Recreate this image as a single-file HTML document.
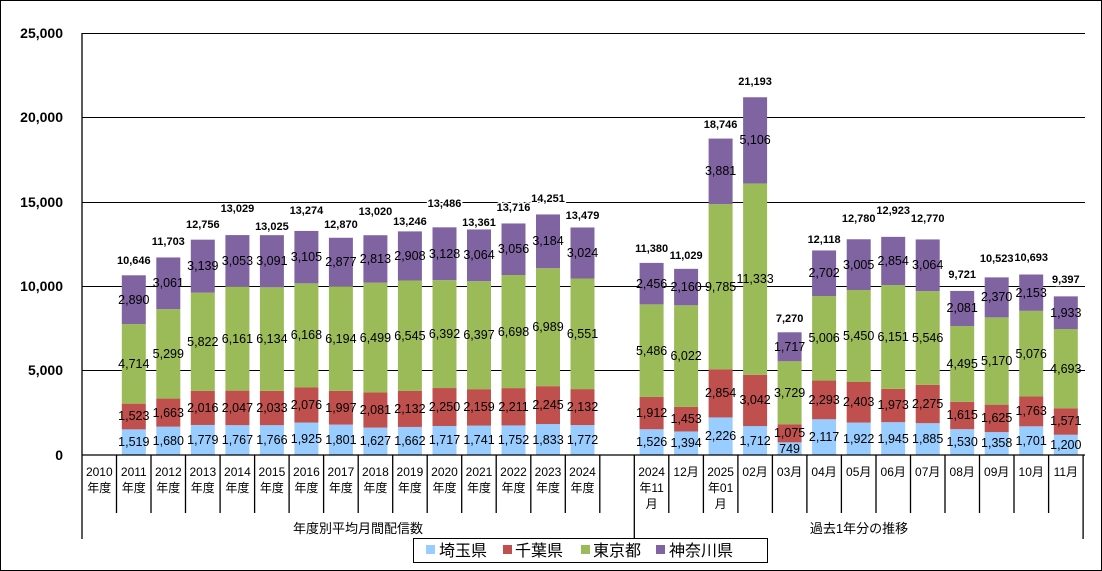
<!DOCTYPE html>
<html><head><meta charset="utf-8">
<style>
html,body{margin:0;padding:0;background:#fff;}
svg{display:block;}
text{font-family:"Liberation Sans","Noto Sans CJK JP",sans-serif;fill:#000;}
.v{font-size:12.5px;text-anchor:middle;dominant-baseline:central;}
.t{font-size:11px;font-weight:bold;text-anchor:middle;dominant-baseline:central;stroke:#fff;stroke-width:3px;paint-order:stroke;}
.ya{font-size:14px;font-weight:bold;text-anchor:end;dominant-baseline:central;}
.c{font-size:12px;text-anchor:middle;}
.g{font-size:13px;text-anchor:middle;}
.lg{font-size:16px;}
</style></head><body>
<svg width="1102" height="571" viewBox="0 0 1102 571" xmlns="http://www.w3.org/2000/svg">
<rect x="0.5" y="0.5" width="1101" height="570" fill="#fff" stroke="#000"/>
<!-- gridlines -->
<g stroke="#000" stroke-width="1">
<line x1="82" y1="33.5" x2="1085" y2="33.5"/>
<line x1="82" y1="117.5" x2="1085" y2="117.5"/>
<line x1="82" y1="202.5" x2="1085" y2="202.5"/>
<line x1="82" y1="286.5" x2="1085" y2="286.5"/>
<line x1="82" y1="370.5" x2="1085" y2="370.5"/>
</g>
<text class="ya" x="63" y="33">25,000</text>
<text class="ya" x="63" y="117">20,000</text>
<text class="ya" x="63" y="202">15,000</text>
<text class="ya" x="63" y="286">10,000</text>
<text class="ya" x="63" y="370">5,000</text>
<text class="ya" x="63" y="455">0</text>
<!-- bars -->
<g transform="translate(0,455) scale(1,-0.01688)">
<g fill="#99CCFF">
<rect x="121.8" y="0" width="24" height="1519"/><rect x="156.3" y="0" width="24" height="1680"/><rect x="190.8" y="0" width="24" height="1779"/><rect x="225.4" y="0" width="24" height="1767"/><rect x="259.9" y="0" width="24" height="1766"/><rect x="294.4" y="0" width="24" height="1925"/><rect x="328.9" y="0" width="24" height="1801"/><rect x="363.4" y="0" width="24" height="1627"/><rect x="397.9" y="0" width="24" height="1662"/><rect x="432.5" y="0" width="24" height="1717"/><rect x="467" y="0" width="24" height="1741"/><rect x="501.5" y="0" width="24" height="1752"/><rect x="536" y="0" width="24" height="1833"/><rect x="570.5" y="0" width="24" height="1772"/>
<rect x="639.6" y="0" width="24" height="1526"/><rect x="674.1" y="0" width="24" height="1394"/><rect x="708.6" y="0" width="24" height="2226"/><rect x="743.1" y="0" width="24" height="1712"/><rect x="777.6" y="0" width="24" height="749"/><rect x="812.1" y="0" width="24" height="2117"/><rect x="846.7" y="0" width="24" height="1922"/><rect x="881.2" y="0" width="24" height="1945"/><rect x="915.7" y="0" width="24" height="1885"/><rect x="950.2" y="0" width="24" height="1530"/><rect x="984.7" y="0" width="24" height="1358"/><rect x="1019.2" y="0" width="24" height="1701"/><rect x="1053.8" y="0" width="24" height="1200"/>
</g>
<g fill="#C0504D">
<rect x="121.8" y="1519" width="24" height="1523"/><rect x="156.3" y="1680" width="24" height="1663"/><rect x="190.8" y="1779" width="24" height="2016"/><rect x="225.4" y="1767" width="24" height="2047"/><rect x="259.9" y="1766" width="24" height="2033"/><rect x="294.4" y="1925" width="24" height="2076"/><rect x="328.9" y="1801" width="24" height="1997"/><rect x="363.4" y="1627" width="24" height="2081"/><rect x="397.9" y="1662" width="24" height="2132"/><rect x="432.5" y="1717" width="24" height="2250"/><rect x="467" y="1741" width="24" height="2159"/><rect x="501.5" y="1752" width="24" height="2211"/><rect x="536" y="1833" width="24" height="2245"/><rect x="570.5" y="1772" width="24" height="2132"/>
<rect x="639.6" y="1526" width="24" height="1912"/><rect x="674.1" y="1394" width="24" height="1453"/><rect x="708.6" y="2226" width="24" height="2854"/><rect x="743.1" y="1712" width="24" height="3042"/><rect x="777.6" y="749" width="24" height="1075"/><rect x="812.1" y="2117" width="24" height="2293"/><rect x="846.7" y="1922" width="24" height="2403"/><rect x="881.2" y="1945" width="24" height="1973"/><rect x="915.7" y="1885" width="24" height="2275"/><rect x="950.2" y="1530" width="24" height="1615"/><rect x="984.7" y="1358" width="24" height="1625"/><rect x="1019.2" y="1701" width="24" height="1763"/><rect x="1053.8" y="1200" width="24" height="1571"/>
</g>
<g fill="#9BBB59">
<rect x="121.8" y="3042" width="24" height="4714"/><rect x="156.3" y="3343" width="24" height="5299"/><rect x="190.8" y="3795" width="24" height="5822"/><rect x="225.4" y="3814" width="24" height="6161"/><rect x="259.9" y="3799" width="24" height="6134"/><rect x="294.4" y="4001" width="24" height="6168"/><rect x="328.9" y="3798" width="24" height="6194"/><rect x="363.4" y="3708" width="24" height="6499"/><rect x="397.9" y="3794" width="24" height="6545"/><rect x="432.5" y="3967" width="24" height="6392"/><rect x="467" y="3900" width="24" height="6397"/><rect x="501.5" y="3963" width="24" height="6698"/><rect x="536" y="4078" width="24" height="6989"/><rect x="570.5" y="3904" width="24" height="6551"/>
<rect x="639.6" y="3438" width="24" height="5486"/><rect x="674.1" y="2847" width="24" height="6022"/><rect x="708.6" y="5080" width="24" height="9785"/><rect x="743.1" y="4754" width="24" height="11333"/><rect x="777.6" y="1824" width="24" height="3729"/><rect x="812.1" y="4410" width="24" height="5006"/><rect x="846.7" y="4325" width="24" height="5450"/><rect x="881.2" y="3918" width="24" height="6151"/><rect x="915.7" y="4160" width="24" height="5546"/><rect x="950.2" y="3145" width="24" height="4495"/><rect x="984.7" y="2983" width="24" height="5170"/><rect x="1019.2" y="3464" width="24" height="5076"/><rect x="1053.8" y="2771" width="24" height="4693"/>
</g>
<g fill="#8064A2">
<rect x="121.8" y="7756" width="24" height="2890"/><rect x="156.3" y="8642" width="24" height="3061"/><rect x="190.8" y="9617" width="24" height="3139"/><rect x="225.4" y="9975" width="24" height="3053"/><rect x="259.9" y="9933" width="24" height="3091"/><rect x="294.4" y="10169" width="24" height="3105"/><rect x="328.9" y="9992" width="24" height="2877"/><rect x="363.4" y="10207" width="24" height="2813"/><rect x="397.9" y="10339" width="24" height="2908"/><rect x="432.5" y="10359" width="24" height="3128"/><rect x="467" y="10297" width="24" height="3064"/><rect x="501.5" y="10661" width="24" height="3056"/><rect x="536" y="11067" width="24" height="3184"/><rect x="570.5" y="10455" width="24" height="3024"/>
<rect x="639.6" y="8924" width="24" height="2456"/><rect x="674.1" y="8869" width="24" height="2160"/><rect x="708.6" y="14865" width="24" height="3881"/><rect x="743.1" y="16087" width="24" height="5106"/><rect x="777.6" y="5553" width="24" height="1717"/><rect x="812.1" y="9416" width="24" height="2702"/><rect x="846.7" y="9775" width="24" height="3005"/><rect x="881.2" y="10069" width="24" height="2854"/><rect x="915.7" y="9706" width="24" height="3064"/><rect x="950.2" y="7640" width="24" height="2081"/><rect x="984.7" y="8153" width="24" height="2370"/><rect x="1019.2" y="8540" width="24" height="2153"/><rect x="1053.8" y="7464" width="24" height="1933"/>
</g>
</g>
<!-- segment labels -->
<g>
<text class="v" x="133.8" y="442">1,519</text><text class="v" x="133.8" y="416">1,523</text><text class="v" x="133.8" y="364">4,714</text><text class="v" x="133.8" y="300">2,890</text>
<text class="v" x="168.3" y="441">1,680</text><text class="v" x="168.3" y="413">1,663</text><text class="v" x="168.3" y="354">5,299</text><text class="v" x="168.3" y="283">3,061</text>
<text class="v" x="202.8" y="440">1,779</text><text class="v" x="202.8" y="408">2,016</text><text class="v" x="202.8" y="342">5,822</text><text class="v" x="202.8" y="266">3,139</text>
<text class="v" x="237.4" y="440">1,767</text><text class="v" x="237.4" y="408">2,047</text><text class="v" x="237.4" y="339">6,161</text><text class="v" x="237.4" y="261">3,053</text>
<text class="v" x="271.9" y="440">1,766</text><text class="v" x="271.9" y="408">2,033</text><text class="v" x="271.9" y="339">6,134</text><text class="v" x="271.9" y="261">3,091</text>
<text class="v" x="306.4" y="439">1,925</text><text class="v" x="306.4" y="405">2,076</text><text class="v" x="306.4" y="335">6,168</text><text class="v" x="306.4" y="257">3,105</text>
<text class="v" x="340.9" y="440">1,801</text><text class="v" x="340.9" y="408">1,997</text><text class="v" x="340.9" y="339">6,194</text><text class="v" x="340.9" y="262">2,877</text>
<text class="v" x="375.4" y="441">1,627</text><text class="v" x="375.4" y="410">2,081</text><text class="v" x="375.4" y="338">6,499</text><text class="v" x="375.4" y="259">2,813</text>
<text class="v" x="409.9" y="441">1,662</text><text class="v" x="409.9" y="409">2,132</text><text class="v" x="409.9" y="336">6,545</text><text class="v" x="409.9" y="256">2,908</text>
<text class="v" x="444.5" y="440">1,717</text><text class="v" x="444.5" y="407">2,250</text><text class="v" x="444.5" y="334">6,392</text><text class="v" x="444.5" y="254">3,128</text>
<text class="v" x="479" y="440">1,741</text><text class="v" x="479" y="407">2,159</text><text class="v" x="479" y="335">6,397</text><text class="v" x="479" y="255">3,064</text>
<text class="v" x="513.5" y="440">1,752</text><text class="v" x="513.5" y="407">2,211</text><text class="v" x="513.5" y="332">6,698</text><text class="v" x="513.5" y="249">3,056</text>
<text class="v" x="548" y="440">1,833</text><text class="v" x="548" y="405">2,245</text><text class="v" x="548" y="327">6,989</text><text class="v" x="548" y="241">3,184</text>
<text class="v" x="582.5" y="440">1,772</text><text class="v" x="582.5" y="407">2,132</text><text class="v" x="582.5" y="334">6,551</text><text class="v" x="582.5" y="253">3,024</text>

<text class="v" x="651.6" y="442">1,526</text><text class="v" x="651.6" y="413">1,912</text><text class="v" x="651.6" y="351">5,486</text><text class="v" x="651.6" y="284">2,456</text>
<text class="v" x="686.1" y="443">1,394</text><text class="v" x="686.1" y="419">1,453</text><text class="v" x="686.1" y="356">6,022</text><text class="v" x="686.1" y="287">2,160</text>
<text class="v" x="720.6" y="436">2,226</text><text class="v" x="720.6" y="393">2,854</text><text class="v" x="720.6" y="287">9,785</text><text class="v" x="720.6" y="171">3,881</text>
<text class="v" x="755.1" y="441">1,712</text><text class="v" x="755.1" y="400">3,042</text><text class="v" x="755.1" y="279">11,333</text><text class="v" x="755.1" y="140">5,106</text>
<text class="v" x="789.6" y="449">749</text><text class="v" x="789.6" y="433">1,075</text><text class="v" x="789.6" y="393">3,729</text><text class="v" x="789.6" y="347">1,717</text>
<text class="v" x="824.1" y="437">2,117</text><text class="v" x="824.1" y="400">2,293</text><text class="v" x="824.1" y="338">5,006</text><text class="v" x="824.1" y="273">2,702</text>
<text class="v" x="858.7" y="439">1,922</text><text class="v" x="858.7" y="402">2,403</text><text class="v" x="858.7" y="336">5,450</text><text class="v" x="858.7" y="265">3,005</text>
<text class="v" x="893.2" y="439">1,945</text><text class="v" x="893.2" y="405">1,973</text><text class="v" x="893.2" y="337">6,151</text><text class="v" x="893.2" y="261">2,854</text>
<text class="v" x="927.7" y="439">1,885</text><text class="v" x="927.7" y="404">2,275</text><text class="v" x="927.7" y="338">5,546</text><text class="v" x="927.7" y="265">3,064</text>
<text class="v" x="962.2" y="442">1,530</text><text class="v" x="962.2" y="415">1,615</text><text class="v" x="962.2" y="364">4,495</text><text class="v" x="962.2" y="308">2,081</text>
<text class="v" x="996.7" y="443">1,358</text><text class="v" x="996.7" y="418">1,625</text><text class="v" x="996.7" y="361">5,170</text><text class="v" x="996.7" y="297">2,370</text>
<text class="v" x="1031.2" y="441">1,701</text><text class="v" x="1031.2" y="411">1,763</text><text class="v" x="1031.2" y="354">5,076</text><text class="v" x="1031.2" y="293">2,153</text>
<text class="v" x="1065.8" y="445">1,200</text><text class="v" x="1065.8" y="421">1,571</text><text class="v" x="1065.8" y="369">4,693</text><text class="v" x="1065.8" y="313">1,933</text>
</g>
<!-- totals -->
<g>
<text class="t" x="133.8" y="261">10,646</text><text class="t" x="168.3" y="242">11,703</text><text class="t" x="202.8" y="225">12,756</text><text class="t" x="237.4" y="209">13,029</text><text class="t" x="271.9" y="227">13,025</text><text class="t" x="306.4" y="211">13,274</text><text class="t" x="340.9" y="225">12,870</text><text class="t" x="375.4" y="212">13,020</text><text class="t" x="409.9" y="222">13,246</text><text class="t" x="444.5" y="204">13,486</text><text class="t" x="479" y="223">13,361</text><text class="t" x="513.5" y="208">13,716</text><text class="t" x="548" y="199">14,251</text><text class="t" x="582.5" y="216">13,479</text>
<text class="t" x="651.6" y="249">11,380</text><text class="t" x="686.1" y="256">11,029</text><text class="t" x="720.6" y="125">18,746</text><text class="t" x="755.1" y="82">21,193</text><text class="t" x="789.6" y="319">7,270</text><text class="t" x="824.1" y="240">12,118</text><text class="t" x="858.7" y="219">12,780</text><text class="t" x="893.2" y="211">12,923</text><text class="t" x="927.7" y="219">12,770</text><text class="t" x="962.2" y="275">9,721</text><text class="t" x="996.7" y="259">10,523</text><text class="t" x="1031.2" y="258">10,693</text><text class="t" x="1065.8" y="280">9,397</text>
</g>
<!-- axes -->
<g stroke="#000" stroke-width="1.3">
<line x1="82" y1="33" x2="82" y2="539"/>
<line x1="82" y1="455" x2="1085" y2="455"/>
<line x1="116.5" y1="455" x2="116.5" y2="513"/><line x1="151" y1="455" x2="151" y2="513"/><line x1="185.5" y1="455" x2="185.5" y2="513"/><line x1="220.1" y1="455" x2="220.1" y2="513"/><line x1="254.6" y1="455" x2="254.6" y2="513"/><line x1="289.1" y1="455" x2="289.1" y2="513"/><line x1="323.6" y1="455" x2="323.6" y2="513"/><line x1="358.2" y1="455" x2="358.2" y2="513"/><line x1="392.7" y1="455" x2="392.7" y2="513"/><line x1="427.2" y1="455" x2="427.2" y2="513"/><line x1="461.7" y1="455" x2="461.7" y2="513"/><line x1="496.2" y1="455" x2="496.2" y2="513"/><line x1="530.8" y1="455" x2="530.8" y2="513"/><line x1="565.3" y1="455" x2="565.3" y2="513"/><line x1="599.8" y1="455" x2="599.8" y2="513"/>
<line x1="634.3" y1="455" x2="634.3" y2="539"/>
<line x1="668.8" y1="455" x2="668.8" y2="513"/><line x1="703.4" y1="455" x2="703.4" y2="513"/><line x1="737.9" y1="455" x2="737.9" y2="513"/><line x1="772.4" y1="455" x2="772.4" y2="513"/><line x1="806.9" y1="455" x2="806.9" y2="513"/><line x1="841.4" y1="455" x2="841.4" y2="513"/><line x1="876" y1="455" x2="876" y2="513"/><line x1="910.5" y1="455" x2="910.5" y2="513"/><line x1="945" y1="455" x2="945" y2="513"/><line x1="979.5" y1="455" x2="979.5" y2="513"/><line x1="1014" y1="455" x2="1014" y2="513"/><line x1="1048.6" y1="455" x2="1048.6" y2="513"/>
<line x1="1083.1" y1="455" x2="1083.1" y2="539"/>
</g>
<!-- category labels -->
<g>
<text class="c" x="99.3" y="476">2010</text><text class="c" x="99.3" y="492">年度</text>
<text class="c" x="133.8" y="476">2011</text><text class="c" x="133.8" y="492">年度</text>
<text class="c" x="168.3" y="476">2012</text><text class="c" x="168.3" y="492">年度</text>
<text class="c" x="202.8" y="476">2013</text><text class="c" x="202.8" y="492">年度</text>
<text class="c" x="237.4" y="476">2014</text><text class="c" x="237.4" y="492">年度</text>
<text class="c" x="271.9" y="476">2015</text><text class="c" x="271.9" y="492">年度</text>
<text class="c" x="306.4" y="476">2016</text><text class="c" x="306.4" y="492">年度</text>
<text class="c" x="340.9" y="476">2017</text><text class="c" x="340.9" y="492">年度</text>
<text class="c" x="375.4" y="476">2018</text><text class="c" x="375.4" y="492">年度</text>
<text class="c" x="409.9" y="476">2019</text><text class="c" x="409.9" y="492">年度</text>
<text class="c" x="444.5" y="476">2020</text><text class="c" x="444.5" y="492">年度</text>
<text class="c" x="479" y="476">2021</text><text class="c" x="479" y="492">年度</text>
<text class="c" x="513.5" y="476">2022</text><text class="c" x="513.5" y="492">年度</text>
<text class="c" x="548" y="476">2023</text><text class="c" x="548" y="492">年度</text>
<text class="c" x="582.5" y="476">2024</text><text class="c" x="582.5" y="492">年度</text>
<text class="c" x="651.6" y="476">2024</text><text class="c" x="651.6" y="492">年11</text><text class="c" x="651.6" y="508">月</text>
<text class="c" x="686.1" y="476">12月</text>
<text class="c" x="720.6" y="476">2025</text><text class="c" x="720.6" y="492">年01</text><text class="c" x="720.6" y="508">月</text>
<text class="c" x="755.1" y="476">02月</text><text class="c" x="789.6" y="476">03月</text><text class="c" x="824.1" y="476">04月</text><text class="c" x="858.7" y="476">05月</text><text class="c" x="893.2" y="476">06月</text><text class="c" x="927.7" y="476">07月</text><text class="c" x="962.2" y="476">08月</text><text class="c" x="996.7" y="476">09月</text><text class="c" x="1031.2" y="476">10月</text><text class="c" x="1065.8" y="476">11月</text>
<text class="g" x="358" y="533">年度別平均月間配信数</text>
<text class="g" x="859" y="533">過去1年分の推移</text>
</g>
<!-- legend -->
<rect x="413.5" y="538.5" width="354" height="24" fill="#fff" stroke="#000"/>
<rect x="426" y="545" width="9" height="9" fill="#99CCFF"/><text class="lg" x="439" y="556">埼玉県</text>
<rect x="503" y="545" width="9" height="9" fill="#C0504D"/><text class="lg" x="515" y="556">千葉県</text>
<rect x="581" y="545" width="9" height="9" fill="#9BBB59"/><text class="lg" x="593" y="556">東京都</text>
<rect x="656" y="545" width="9" height="9" fill="#8064A2"/><text class="lg" x="669" y="556">神奈川県</text>
</svg>
</body></html>
